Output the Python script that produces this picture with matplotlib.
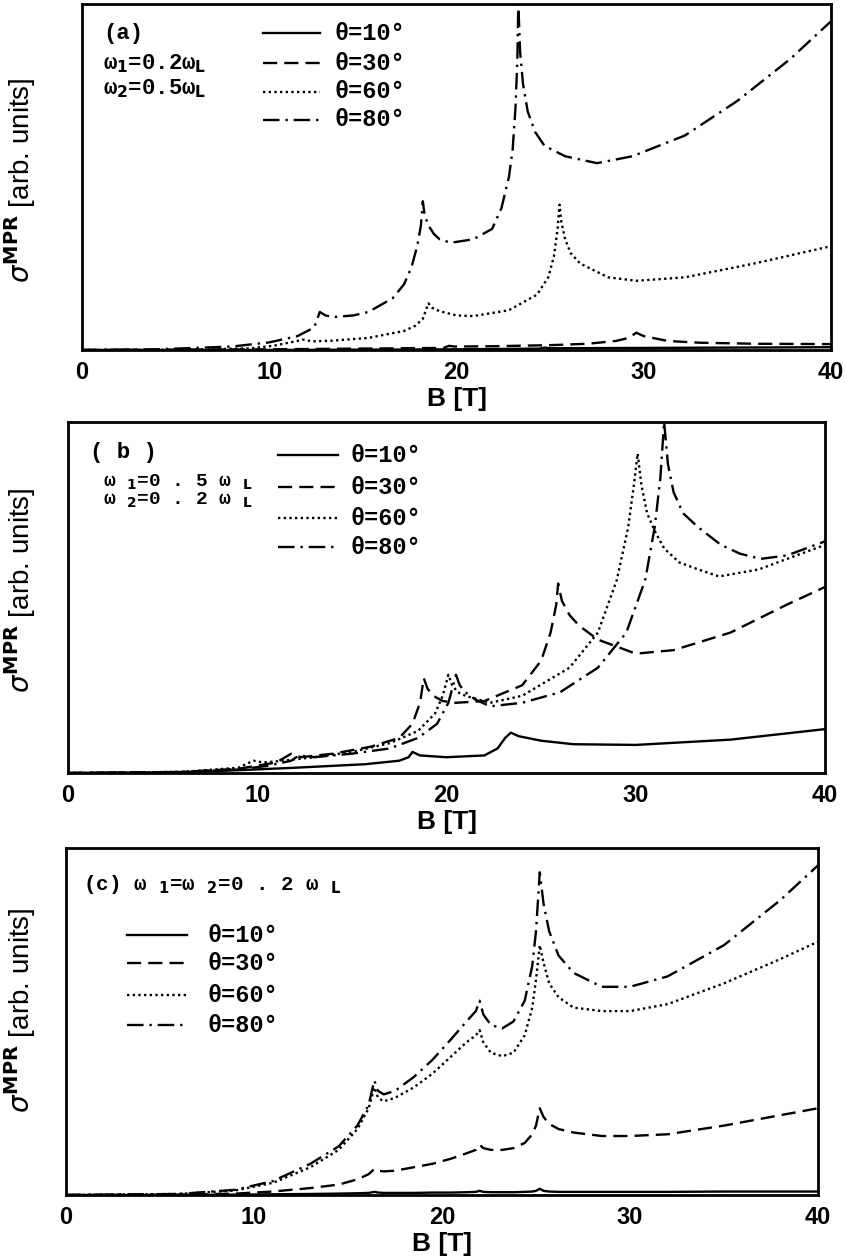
import matplotlib
matplotlib.use("Agg")
import matplotlib.pyplot as plt
from matplotlib.lines import Line2D

# ---------------- data (B in tesla, sigma in arb. units, 0..1 of axis) -------------
# panel (a)  w1=0.2wL, w2=0.5wL
a_B_10 = [0, 10, 20, 24.4, 24.7, 25, 30, 35, 40]
a_v_10 = [0, 0.0, 0.002, 0.004, 0.007, 0.005, 0.006, 0.007, 0.008]
a_B_30 = [0, 10, 19.3, 19.6, 19.9, 22, 25, 27, 28.5, 29.2, 29.6, 30.0, 31.3, 33, 36, 40]
a_v_30 = [0, 0.002, 0.006, 0.012, 0.01, 0.011, 0.014, 0.018, 0.026, 0.035, 0.05, 0.04, 0.026, 0.021, 0.018, 0.017]
a_B_60 = [0, 6, 9, 10.2, 11.4, 11.8, 12.3, 13.4, 15.3, 17.2, 17.8, 18.2, 18.5, 18.7, 19.1, 20.0, 20.9,
          22.8, 24.3, 24.9, 25.2, 25.4, 25.5, 25.6, 25.8, 26.1, 26.6, 28.1, 29.6, 32.2, 35.9, 40]
a_v_60 = [0, 0.001, 0.005, 0.012, 0.025, 0.03, 0.025, 0.027, 0.035, 0.055, 0.07, 0.09, 0.135, 0.122, 0.112, 0.10, 0.098,
          0.115, 0.16, 0.21, 0.27, 0.35, 0.42, 0.37, 0.32, 0.28, 0.25, 0.21, 0.20, 0.21, 0.25, 0.30]
a_B_80 = [0, 4, 8, 10, 11.5, 12.4, 12.7, 13.0, 13.4, 14.5, 15.3, 16.6, 17.2, 17.6, 17.9, 18.1, 18.2, 18.3, 18.5,
          18.8, 19.1, 19.7, 20.9, 21.9, 22.4, 22.8, 23.0, 23.15, 23.25, 23.3, 23.4, 23.55, 23.8, 24.2, 24.7, 25.8,
          27.5, 29.4, 32.2, 35.0, 37.8, 40]
a_v_80 = [0, 0.002, 0.01, 0.022, 0.04, 0.065, 0.11, 0.10, 0.095, 0.1, 0.11, 0.15, 0.19, 0.24, 0.3, 0.36, 0.43, 0.39,
          0.36, 0.335, 0.32, 0.31, 0.32, 0.35, 0.41, 0.5, 0.58, 0.7, 0.84, 1.0, 0.86, 0.77, 0.69, 0.63, 0.59, 0.56,
          0.54, 0.56, 0.62, 0.72, 0.84, 0.95]

# panel (b)  w1=0.5wL, w2=0.2wL
b_B_10 = [0, 6, 9, 12, 15.7, 17.5, 18.0, 18.2, 18.6, 20, 22, 22.7, 23.1, 23.4, 23.8, 25, 26.7, 30, 35, 40]
b_v_10 = [0, 0.002, 0.008, 0.015, 0.025, 0.035, 0.045, 0.06, 0.05, 0.045, 0.05, 0.07, 0.1, 0.115, 0.105, 0.092,
          0.082, 0.08, 0.095, 0.125]
b_B_30 = [0, 6, 9, 11, 11.8, 12.3, 14, 16, 17.5, 18.2, 18.6, 18.8, 19.0, 19.3, 19.8, 20.5, 22, 24, 25, 25.5, 25.8,
          25.9, 26.1, 26.5, 27, 28, 30, 32, 35, 38, 40]
b_v_30 = [0, 0.003, 0.012, 0.03, 0.055, 0.045, 0.055, 0.075, 0.1, 0.14, 0.2, 0.27, 0.24, 0.22, 0.205, 0.2, 0.205,
          0.25, 0.32, 0.4, 0.48, 0.54, 0.49, 0.45, 0.42, 0.38, 0.34, 0.35, 0.4, 0.48, 0.53]
b_B_60 = [0, 6, 9, 9.8, 10.3, 11, 13, 15, 17, 18.5, 19.4, 19.8, 20.1, 20.3, 20.6, 21, 22.3, 24, 26.5, 28, 29, 29.6,
          29.9, 30.1, 30.3, 30.6, 31, 31.5, 32.3, 33.3, 34.4, 36.5, 40]
b_v_60 = [0, 0.003, 0.015, 0.035, 0.03, 0.033, 0.045, 0.06, 0.085, 0.12, 0.17, 0.22, 0.28, 0.25, 0.23, 0.22, 0.2,
          0.22, 0.3, 0.4, 0.55, 0.7, 0.82, 0.91, 0.82, 0.74, 0.69, 0.64, 0.6, 0.58, 0.56, 0.58, 0.65]
b_B_80 = [0, 6, 9, 10.5, 11.8, 12.2, 13, 15, 17, 18.5, 19.5, 20.1, 20.5, 20.7, 21.0, 21.5, 22.3, 24, 26, 28, 29.5,
          30.5, 31.0, 31.3, 31.5, 31.7, 32.0, 32.5, 33.3, 34.5, 35.5, 36.6, 38, 40]
b_v_80 = [0, 0.003, 0.01, 0.02, 0.035, 0.05, 0.045, 0.055, 0.07, 0.1, 0.14, 0.2, 0.28, 0.25, 0.23, 0.21, 0.19, 0.2,
          0.23, 0.3, 0.4, 0.55, 0.7, 0.84, 1.0, 0.88, 0.8, 0.74, 0.7, 0.65, 0.625, 0.61, 0.62, 0.66]

# panel (c)  w1=w2=0.2wL  (all four curves sampled on the same field values)
c_B = [0, 6, 9, 11, 13, 14.5, 15.5, 16.1, 16.4, 16.6, 16.9, 17.5, 18.5, 19.5, 20.5, 21.3, 21.8, 22.0, 22.2, 22.6,
       23.2, 23.8, 24.4, 24.8, 25.0, 25.2, 25.4, 25.7, 26.2, 27, 28.5, 30, 32, 35, 38, 40]
c_v_10 = [0, 0, 0.001, 0.002, 0.003, 0.004, 0.005, 0.006, 0.009, 0.007, 0.006, 0.006, 0.006, 0.007, 0.007, 0.008,
          0.009, 0.012, 0.009, 0.008, 0.008, 0.008, 0.009, 0.01, 0.012, 0.018, 0.012, 0.01, 0.009, 0.009, 0.009,
          0.009, 0.009, 0.01, 0.01, 0.01]
c_v_30 = [0, 0.001, 0.004, 0.01, 0.02, 0.03, 0.045, 0.06, 0.075, 0.07, 0.068, 0.07, 0.08, 0.09, 0.105, 0.12, 0.13,
          0.145, 0.135, 0.13, 0.13, 0.135, 0.15, 0.175, 0.2, 0.25, 0.225, 0.205, 0.19, 0.18, 0.17, 0.17, 0.175, 0.2,
          0.23, 0.25]
c_v_60 = [0, 0.003, 0.013, 0.035, 0.08, 0.13, 0.19, 0.25, 0.31, 0.28, 0.27, 0.28, 0.31, 0.35, 0.4, 0.44, 0.46,
          0.475, 0.44, 0.41, 0.4, 0.41, 0.46, 0.54, 0.62, 0.72, 0.67, 0.61, 0.57, 0.54, 0.53, 0.53, 0.55, 0.61, 0.68,
          0.73]
c_v_80 = [0, 0.003, 0.015, 0.04, 0.09, 0.14, 0.2, 0.26, 0.33, 0.3, 0.29, 0.3, 0.34, 0.39, 0.45, 0.5, 0.53, 0.56,
          0.52, 0.49, 0.48, 0.5, 0.56, 0.66, 0.76, 0.93, 0.84, 0.76, 0.69, 0.64, 0.6, 0.6, 0.63, 0.72, 0.85, 0.95]

x_ticks = [0, 10, 20, 30, 40]
x_tick_labels = ["0", "10", "20", "30", "40"]
theta_labels = ["θ=10°", "θ=30°", "θ=60°", "θ=80°"]

# ---------------- styles -------------
LW = 1.7
styles = [
    dict(linestyle="-"),
    dict(linestyle=(0, (6, 3))),
    dict(linestyle=(0, (1, 1.4))),
    dict(linestyle=(0, (7, 2.5, 1, 2.5))),
]

W, H = 846, 1256
fig = plt.figure(figsize=(W / 100, H / 100), dpi=100)
MONO = ["Liberation Mono", "DejaVu Sans Mono"]


def fx(px):
    return px / W


def fy(py):
    return 1 - py / H


def make_axes(left, top, right, bottom):
    ax = fig.add_axes([fx(left), fy(bottom), fx(right) - fx(left), fy(top) - fy(bottom)])
    ax.set_xlim(0, 40)
    ax.set_ylim(0, 1.0)
    ax.set_yticks([])
    ax.set_xticks(x_ticks)
    ax.set_xticklabels(x_tick_labels, fontsize=17, fontweight="bold", family="Liberation Sans")
    ax.tick_params(axis="x", length=0, pad=8)
    for s in ax.spines.values():
        s.set_linewidth(2.0)
    ax.set_xlabel("B [T]", fontsize=19, fontweight="bold", family="Liberation Sans", labelpad=2)
    return ax


def legend_rows(x0, x1, xt, ys, size=17):
    for lab, st, y in zip(theta_labels, styles, ys):
        fig.add_artist(Line2D([fx(x0), fx(x1)], [fy(y), fy(y)], color="black", lw=LW, **st))
        fig.text(fx(xt), fy(y), lab, fontsize=size, family=MONO, fontweight="bold", va="center", ha="left")


panels = [
    dict(box=(82, 4, 831, 350), ylab_y=180,
         data=[(a_B_10, a_v_10), (a_B_30, a_v_30), (a_B_60, a_v_60), (a_B_80, a_v_80)]),
    dict(box=(68, 422, 825, 773), ylab_y=590,
         data=[(b_B_10, b_v_10), (b_B_30, b_v_30), (b_B_60, b_v_60), (b_B_80, b_v_80)]),
    dict(box=(66, 848, 818, 1195), ylab_y=1010,
         data=[(c_B, c_v_10), (c_B, c_v_30), (c_B, c_v_60), (c_B, c_v_80)]),
]

for p in panels:
    ax = make_axes(*p["box"])
    for (B, v), st in zip(p["data"], styles):
        ax.plot(B, v, color="black", lw=LW, **st)
    fig.text(fx(20), fy(p["ylab_y"]), r"$\sigma^{\mathbf{MPR}}$ [arb. units]", fontsize=20,
             family="Liberation Sans", rotation=90, ha="center", va="center")

S1, S2, SL = r"$_\mathbf{1}$", r"$_\mathbf{2}$", r"$_\mathbf{L}$"

# panel (a) annotations
fig.text(fx(103), fy(33), "(a)", fontsize=16, family=MONO, fontweight="bold", va="center")
fig.text(fx(103), fy(64), "ω" + S1 + "=0.2ω" + SL, fontsize=16, family=MONO, fontweight="bold", va="center")
fig.text(fx(103), fy(89), "ω" + S2 + "=0.5ω" + SL, fontsize=16, family=MONO, fontweight="bold", va="center")
legend_rows(263, 320, 334, [33, 63, 92, 120])

# panel (b) annotations
fig.text(fx(90), fy(453), "( b )", fontsize=16, family=MONO, fontweight="bold", va="center")
fig.text(fx(103), fy(482), "ω " + S1 + "=0 . 5 ω " + SL, fontsize=14, family=MONO, fontweight="bold", va="center")
fig.text(fx(103), fy(500), "ω " + S2 + "=0 . 2 ω " + SL, fontsize=14, family=MONO, fontweight="bold", va="center")
legend_rows(278, 338, 350, [455, 487, 518, 547])

# panel (c) annotations
fig.text(fx(83), fy(885), "(c) ω " + S1 + "=ω " + S2 + "=0 . 2 ω " + SL, fontsize=15, family=MONO,
         fontweight="bold", va="center")
legend_rows(127, 187, 207, [935, 963, 995, 1025])

fig.savefig("out.png", dpi=100)
